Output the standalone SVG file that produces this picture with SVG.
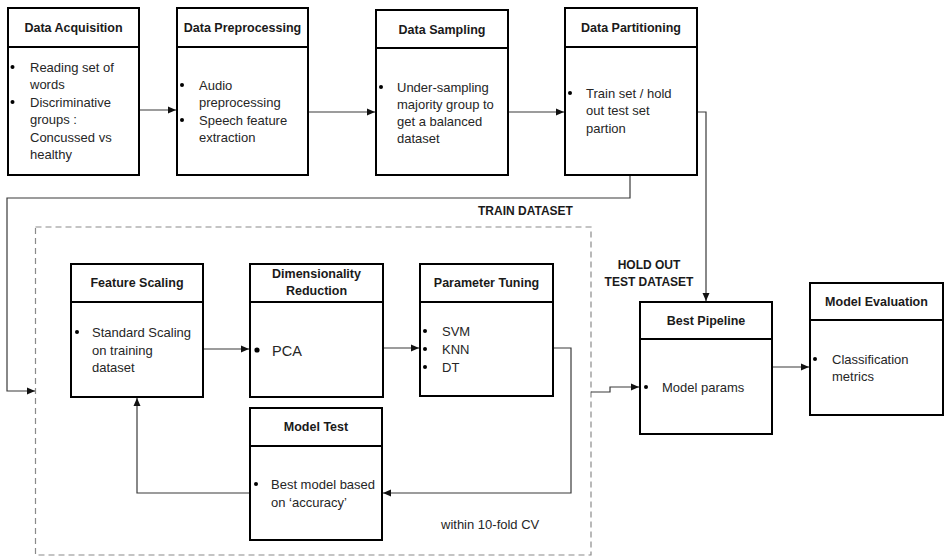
<svg xmlns="http://www.w3.org/2000/svg" width="944" height="557" viewBox="0 0 944 557">
<style>
.box{fill:#fff;stroke:#000;stroke-width:2}
.div{stroke:#000;stroke-width:2}
.t{font-family:"Liberation Sans",Arial,sans-serif;font-size:13px;fill:#262626}
.h{font-family:"Liberation Sans",Arial,sans-serif;font-size:12.5px;font-weight:bold;fill:#1a1a1a;text-anchor:middle}
.lbl{font-family:"Liberation Sans",Arial,sans-serif;font-size:12px;font-weight:bold;fill:#1a1a1a}
.b{fill:#000}
.c{fill:none;stroke:#3a3a3a;stroke-width:1.2}
.dash{fill:none;stroke:#8a8a8a;stroke-width:1.2;stroke-dasharray:6 4}
</style>
<defs>
<marker id="ah" viewBox="0 0 8 8" refX="8" refY="4" markerWidth="8" markerHeight="8" markerUnits="userSpaceOnUse" orient="auto">
<path d="M0,0.5 L8,4 L0,7.5 Z" fill="#111"/>
</marker>
</defs>

<rect class="dash" x="35.5" y="227" width="555.5" height="328"/>
<text class="lbl" x="478" y="215">TRAIN DATASET</text>
<text class="lbl" x="649" y="269" text-anchor="middle">HOLD OUT</text>
<text class="lbl" x="649" y="286" text-anchor="middle">TEST DATASET</text>
<text class="t" x="441" y="529">within 10-fold CV</text>

<g id="connectors">
<path class="c" d="M139 110 H176" marker-end="url(#ah)"/>
<path class="c" d="M308 112 H375" marker-end="url(#ah)"/>
<path class="c" d="M508 112 H564" marker-end="url(#ah)"/>
<path class="c" d="M697 112 H706 V301" marker-end="url(#ah)"/>
<path class="c" d="M630 175 V198 H7 V391 H35" marker-end="url(#ah)"/>
<path class="c" d="M203 349 H249" marker-end="url(#ah)"/>
<path class="c" d="M383 348 H419" marker-end="url(#ah)"/>
<path class="c" d="M553 348 H571 V493 H383" marker-end="url(#ah)"/>
<path class="c" d="M250 493 H137 V398" marker-end="url(#ah)"/>
<path class="c" d="M591 392 H610 V387 H639" marker-end="url(#ah)"/>
<path class="c" d="M772 367 H809" marker-end="url(#ah)"/>
</g>

<g id="data-acquisition">
<rect class="box" x="8" y="8" width="131" height="167"/>
<line class="div" x1="8" y1="47" x2="139" y2="47"/>
<text class="h" x="73.5" y="32">Data Acquisition</text>
<circle class="b" cx="12.5" cy="67" r="2"/>
<circle class="b" cx="12.5" cy="102" r="2"/>
<text class="t" x="30" y="71.5">Reading set of</text>
<text class="t" x="30" y="89">words</text>
<text class="t" x="30" y="106.5">Discriminative</text>
<text class="t" x="30" y="124">groups :</text>
<text class="t" x="30" y="141.5">Concussed vs</text>
<text class="t" x="30" y="159">healthy</text>
</g>

<g id="data-preprocessing">
<rect class="box" x="177" y="8" width="131" height="167"/>
<line class="div" x1="177" y1="47" x2="308" y2="47"/>
<text class="h" x="242.5" y="32">Data Preprocessing</text>
<circle class="b" cx="182" cy="85" r="2"/>
<circle class="b" cx="182" cy="120" r="2"/>
<text class="t" x="199" y="89.5">Audio</text>
<text class="t" x="199" y="107">preprocessing</text>
<text class="t" x="199" y="124.5">Speech feature</text>
<text class="t" x="199" y="142">extraction</text>
</g>

<g id="data-sampling">
<rect class="box" x="376" y="10" width="132" height="165"/>
<line class="div" x1="376" y1="48" x2="508" y2="48"/>
<text class="h" x="442" y="34">Data Sampling</text>
<circle class="b" cx="381" cy="87" r="2"/>
<text class="t" x="397" y="91.5">Under-sampling</text>
<text class="t" x="397" y="109">majority group to</text>
<text class="t" x="397" y="126">get a balanced</text>
<text class="t" x="397" y="143">dataset</text>
</g>

<g id="data-partitioning">
<rect class="box" x="565" y="8" width="132" height="167"/>
<line class="div" x1="565" y1="47" x2="697" y2="47"/>
<text class="h" x="631" y="32">Data Partitioning</text>
<circle class="b" cx="570" cy="93" r="2"/>
<text class="t" x="586" y="97.5">Train set / hold</text>
<text class="t" x="586" y="115">out test set</text>
<text class="t" x="586" y="132.5">partion</text>
</g>

<g id="feature-scaling">
<rect class="box" x="71" y="264" width="132" height="133"/>
<line class="div" x1="71" y1="302" x2="203" y2="302"/>
<text class="h" x="137" y="287">Feature Scaling</text>
<circle class="b" cx="77" cy="332" r="2"/>
<text class="t" x="92" y="336.5">Standard Scaling</text>
<text class="t" x="92" y="354.5">on training</text>
<text class="t" x="92" y="371.5">dataset</text>
</g>

<g id="dimensionality-reduction">
<rect class="box" x="250" y="264" width="133" height="133"/>
<line class="div" x1="250" y1="302" x2="383" y2="302"/>
<text class="h" x="316.5" y="278">Dimensionality</text>
<text class="h" x="316.5" y="295">Reduction</text>
<circle class="b" cx="257" cy="350" r="2.6"/>
<text class="t" x="272" y="355.5" style="font-size:14.5px">PCA</text>
</g>

<g id="parameter-tuning">
<rect class="box" x="420" y="264" width="133" height="132"/>
<line class="div" x1="420" y1="302" x2="553" y2="302"/>
<text class="h" x="486.5" y="287">Parameter Tuning</text>
<circle class="b" cx="425" cy="331" r="2"/>
<circle class="b" cx="425" cy="349" r="2"/>
<circle class="b" cx="425" cy="367" r="2"/>
<text class="t" x="442" y="335.5">SVM</text>
<text class="t" x="442" y="353.5">KNN</text>
<text class="t" x="442" y="371.5">DT</text>
</g>

<g id="model-test">
<rect class="box" x="250" y="408" width="132" height="132"/>
<line class="div" x1="250" y1="446" x2="382" y2="446"/>
<text class="h" x="316" y="431">Model Test</text>
<circle class="b" cx="256" cy="484" r="2"/>
<text class="t" x="271" y="488.5">Best model based</text>
<text class="t" x="271" y="507">on ‘accuracy’</text>
</g>

<g id="best-pipeline">
<rect class="box" x="640" y="302" width="132" height="132"/>
<line class="div" x1="640" y1="339" x2="772" y2="339"/>
<text class="h" x="706" y="325">Best Pipeline</text>
<circle class="b" cx="646" cy="387" r="2"/>
<text class="t" x="662" y="391.5">Model params</text>
</g>

<g id="model-evaluation">
<rect class="box" x="810" y="283" width="133" height="132"/>
<line class="div" x1="810" y1="320" x2="943" y2="320"/>
<text class="h" x="876.5" y="306">Model Evaluation</text>
<circle class="b" cx="815" cy="359" r="2"/>
<text class="t" x="832" y="363.5">Classification</text>
<text class="t" x="832" y="381">metrics</text>
</g>
</svg>
